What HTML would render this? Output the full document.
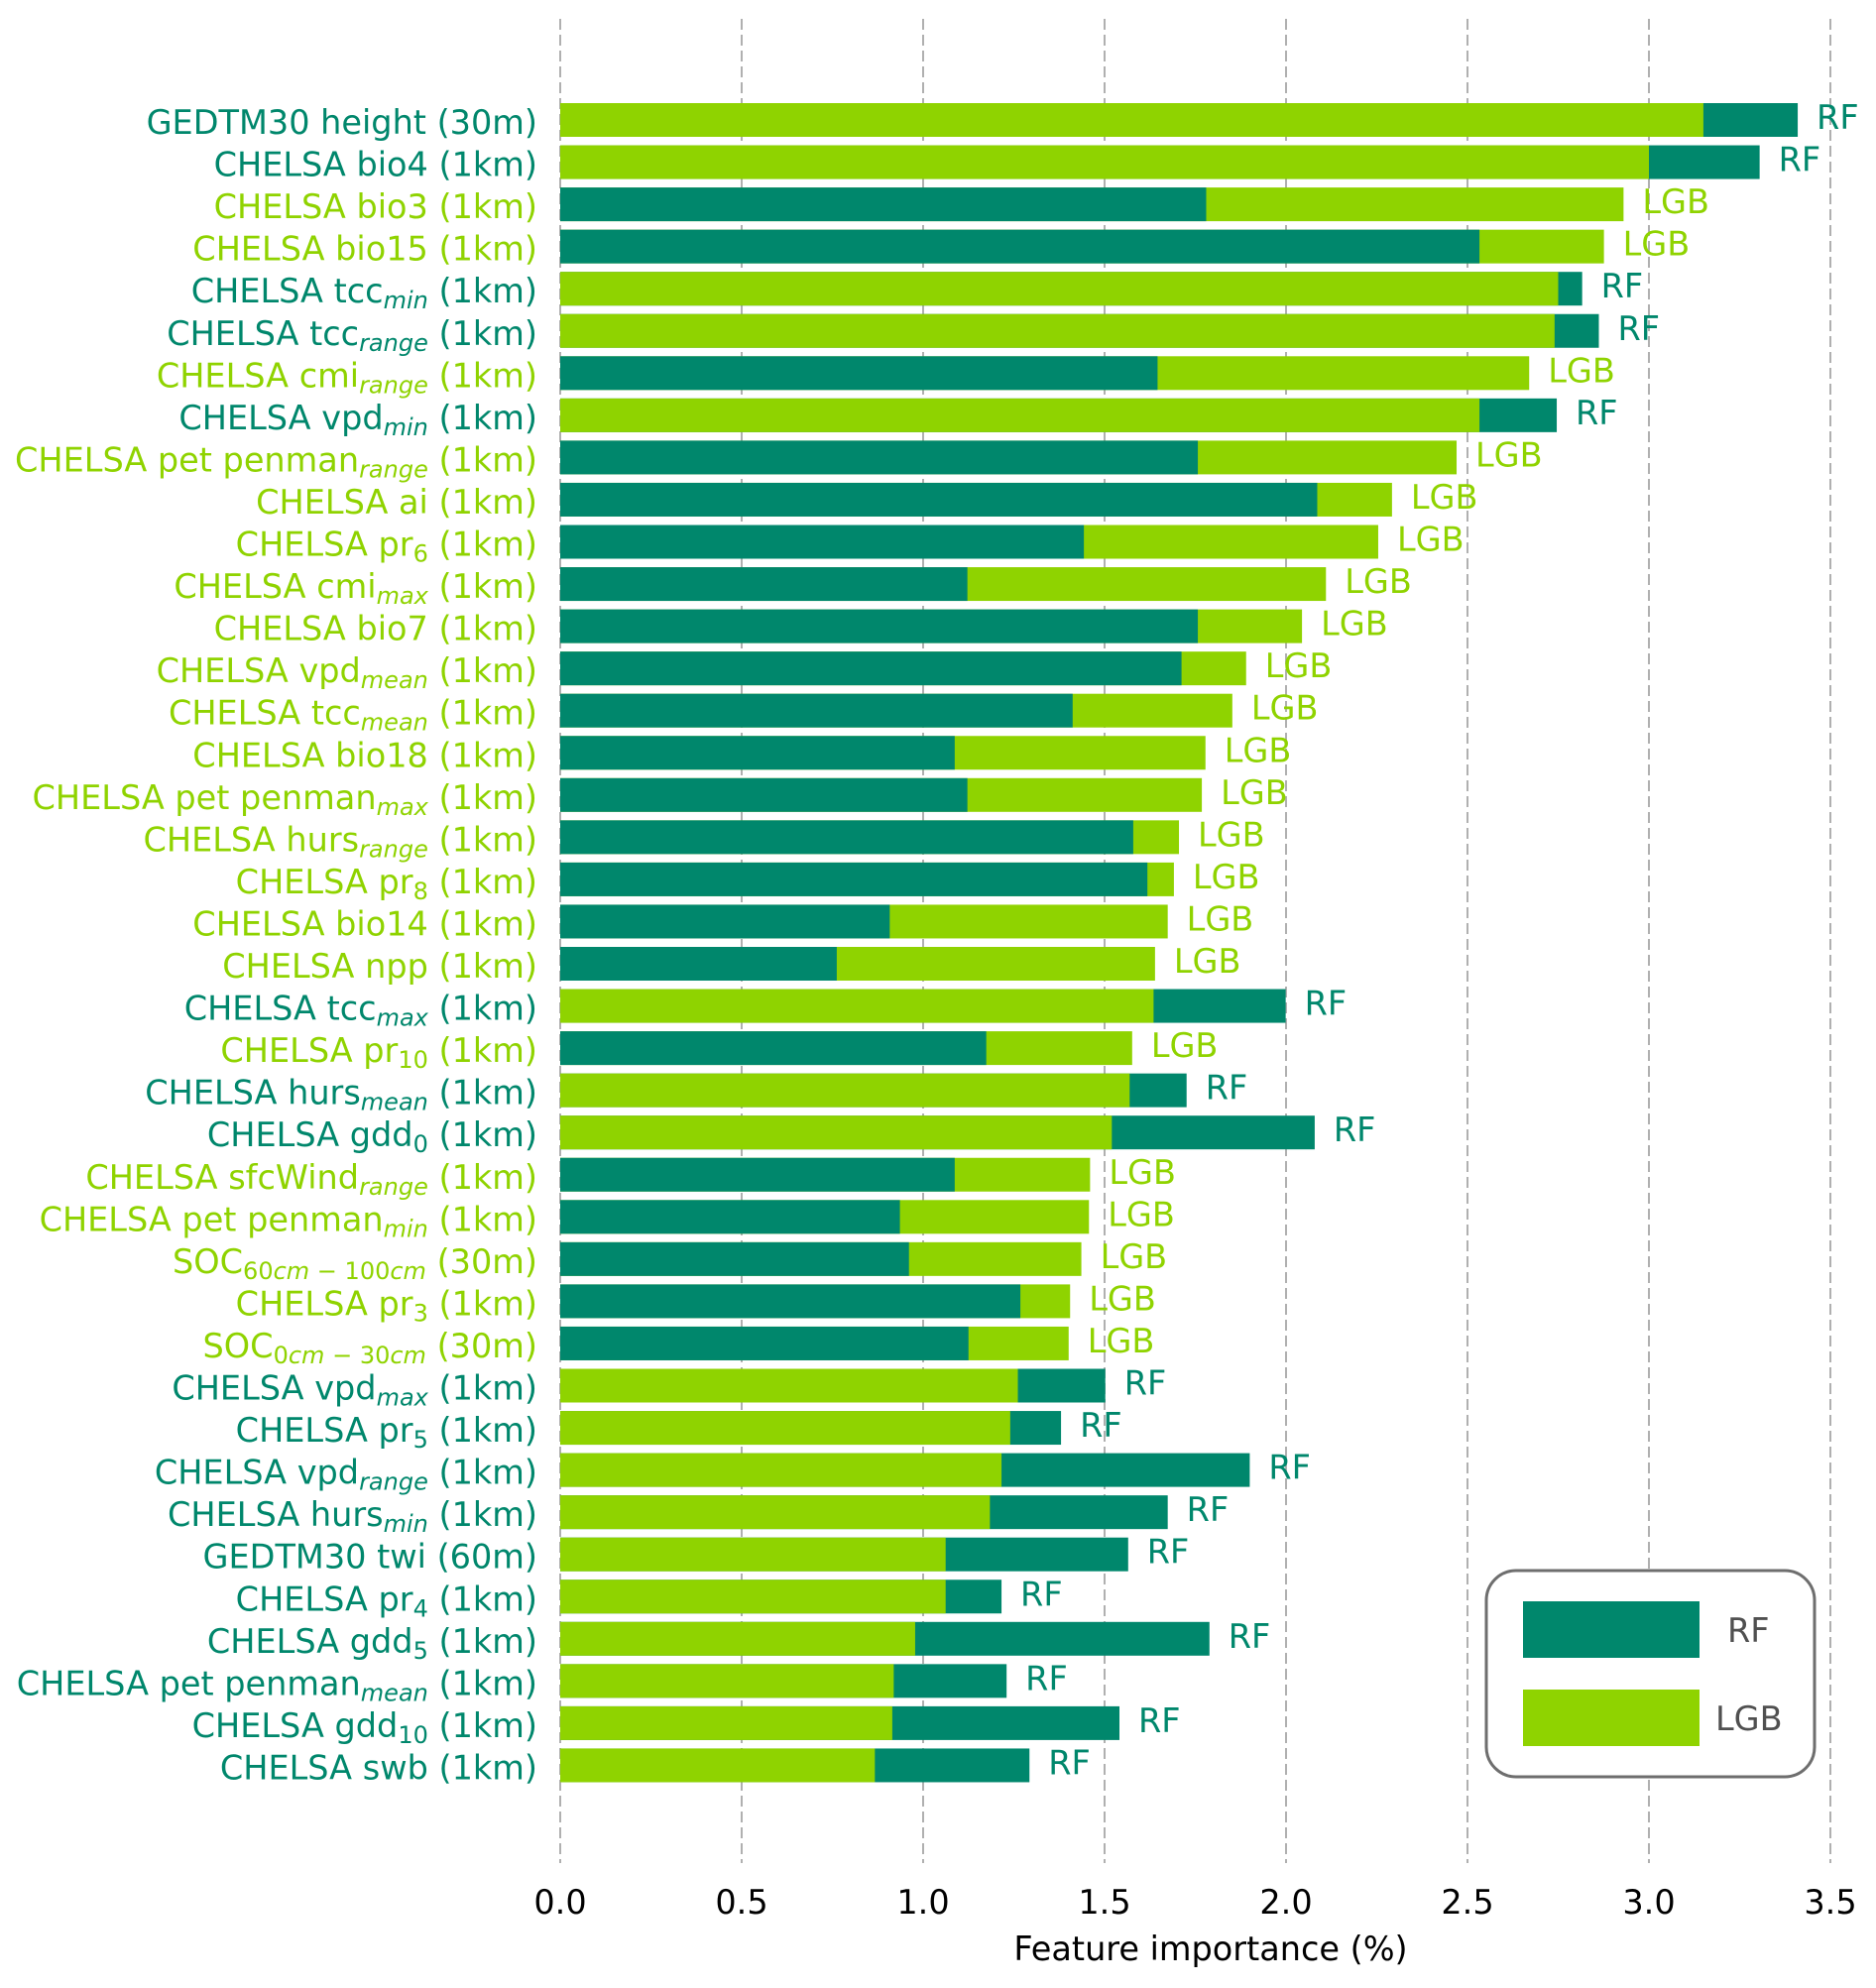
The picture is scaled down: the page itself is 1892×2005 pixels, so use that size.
<!DOCTYPE html>
<html><head><meta charset="utf-8"><title>Feature importance</title>
<style>
html,body{margin:0;padding:0;background:#fff;}
svg{display:block;font-family:"DejaVu Sans","Liberation Sans",sans-serif;}
</style></head>
<body>
<svg id="chart" width="1892" height="2005" viewBox="0 0 1892 2005" xmlns="http://www.w3.org/2000/svg">
<g id="grid"></g>
<g id="bars"></g>
<g id="ylabels"></g>
<g id="xticks"></g>
<text x="1221" y="1977" font-size="33.5" text-anchor="middle" fill="#000">Feature importance (%)</text>
<g>
<rect x="1499" y="1584" width="331" height="208" rx="30" ry="30" fill="#fff" stroke="#6e6e6e" stroke-width="3"/>
<rect x="1536" y="1615" width="178" height="57" fill="#00876c"/>
<text x="1742" y="1656" font-size="33.5" fill="#505050">RF</text>
<rect x="1536" y="1704" width="178" height="57" fill="#8fd300"/>
<text x="1730" y="1745" font-size="33.5" fill="#505050">LGB</text>
</g>
</svg>
<script>
const features = [
 ["GEDTM30 height","",""," (30m)"],["CHELSA bio4","",""," (1km)"],["CHELSA bio3","",""," (1km)"],["CHELSA bio15","",""," (1km)"],
 ["CHELSA tcc","min","i"," (1km)"],["CHELSA tcc","range","i"," (1km)"],["CHELSA cmi","range","i"," (1km)"],["CHELSA vpd","min","i"," (1km)"],
 ["CHELSA pet penman","range","i"," (1km)"],["CHELSA ai","",""," (1km)"],["CHELSA pr","6","n"," (1km)"],["CHELSA cmi","max","i"," (1km)"],
 ["CHELSA bio7","",""," (1km)"],["CHELSA vpd","mean","i"," (1km)"],["CHELSA tcc","mean","i"," (1km)"],["CHELSA bio18","",""," (1km)"],
 ["CHELSA pet penman","max","i"," (1km)"],["CHELSA hurs","range","i"," (1km)"],["CHELSA pr","8","n"," (1km)"],["CHELSA bio14","",""," (1km)"],
 ["CHELSA npp","",""," (1km)"],["CHELSA tcc","max","i"," (1km)"],["CHELSA pr","10","n"," (1km)"],["CHELSA hurs","mean","i"," (1km)"],
 ["CHELSA gdd","0","n"," (1km)"],["CHELSA sfcWind","range","i"," (1km)"],["CHELSA pet penman","min","i"," (1km)"],["SOC","60cm \u2212 100cm","m"," (30m)"],
 ["CHELSA pr","3","n"," (1km)"],["SOC","0cm \u2212 30cm","m"," (30m)"],["CHELSA vpd","max","i"," (1km)"],["CHELSA pr","5","n"," (1km)"],
 ["CHELSA vpd","range","i"," (1km)"],["CHELSA hurs","min","i"," (1km)"],["GEDTM30 twi","",""," (60m)"],["CHELSA pr","4","n"," (1km)"],
 ["CHELSA gdd","5","n"," (1km)"],["CHELSA pet penman","mean","i"," (1km)"],["CHELSA gdd","10","n"," (1km)"],["CHELSA swb","",""," (1km)"]
];
const rfValues = [3.41,3.305,1.78,2.533,2.816,2.862,1.646,2.746,1.757,2.086,1.443,1.122,1.757,1.712,1.412,1.087,1.122,1.579,1.618,0.908,0.762,1.999,1.174,1.726,2.079,1.087,0.936,0.961,1.268,1.125,1.502,1.38,1.9,1.674,1.565,1.216,1.789,1.23,1.541,1.293];
const lgbValues = [3.15,3.0,2.93,2.876,2.75,2.74,2.67,2.533,2.47,2.292,2.254,2.11,2.044,1.89,1.852,1.778,1.768,1.705,1.691,1.674,1.639,1.635,1.576,1.569,1.52,1.46,1.457,1.436,1.405,1.401,1.261,1.24,1.216,1.184,1.062,1.062,0.978,0.919,0.915,0.867];
const xTicks = [0,0.5,1.0,1.5,2.0,2.5,3.0,3.5];
const xTickLabels = ["0.0","0.5","1.0","1.5","2.0","2.5","3.0","3.5"];

const NS="http://www.w3.org/2000/svg";
const TEAL="#00876c", LIME="#8fd300";
const FS=33.5, SFS=24;
function xs(v){return 565+v*366;}
function yc(i){return 121+i*42.55;}
const barH=34;
function mk(tag,attrs,parent){const e=document.createElementNS(NS,tag);for(const k in attrs)e.setAttribute(k,attrs[k]);parent.appendChild(e);return e;}

const grid=document.getElementById('grid');
const xt=document.getElementById('xticks');
xTicks.forEach((t,i)=>{
  const l=mk('line',{x1:xs(t),x2:xs(t),y1:19,y2:1879,stroke:"#b0b0b0","stroke-width":2,"stroke-dasharray":"11 5"},grid);
  
  
  const tx=mk('text',{x:xs(t),y:1930,"font-size":FS,"text-anchor":"middle",fill:"#000"},xt);
  tx.textContent=xTickLabels[i];
  
  
});

const bars=document.getElementById('bars');
const yl=document.getElementById('ylabels');
features.forEach((f,i)=>{
  const rf=rfValues[i], lgb=lgbValues[i];
  const rfWins=rf>=lgb;
  const y=yc(i)-barH/2;
  const big=rfWins?rf:lgb, small=rfWins?lgb:rf;
  const bigC=rfWins?TEAL:LIME, smallC=rfWins?LIME:TEAL;
  const b1=mk('rect',{x:xs(0),y:y,width:xs(big)-xs(0),height:barH,fill:bigC},bars);
  
  
  const b2=mk('rect',{x:xs(0),y:y,width:xs(small)-xs(0),height:barH,fill:smallC},bars);
  
  
  const el=mk('text',{x:xs(big)+19,y:yc(i)+9,"font-size":FS,fill:bigC},bars);
  el.textContent=rfWins?"RF":"LGB";
  
  
  const lt=mk('text',{x:542,y:yc(i)+14,"font-size":FS,"text-anchor":"end",fill:bigC},yl);
  
  
  const t1=mk('tspan',{},lt); t1.textContent=f[0];
  if(f[1]){
    if(f[2]==="m"){
      const parts=f[1].split(" ");
      const seg=[[parts[0].match(/^\d+/)[0],0],[parts[0].replace(/^\d+/,''),1],[" "+parts[1]+" ",0],[parts[2].match(/^\d+/)[0],0],[parts[2].replace(/^\d+/,''),1]];
      seg.forEach((s,k)=>{const ts=mk('tspan',{"font-size":SFS,"font-style":s[1]?"italic":"normal"},lt);if(k===0)ts.setAttribute('dy','6');ts.textContent=s[0];});
    } else {
      const ts=mk('tspan',{"font-size":SFS,dy:6,"font-style":f[2]==="i"?"italic":"normal"},lt);
      ts.textContent=f[1];
    }
    const t3=mk('tspan',{dy:-6},lt); t3.textContent=f[3];
  } else {
    t1.textContent=f[0]+f[3];
  }
});
</script>
</body></html>
